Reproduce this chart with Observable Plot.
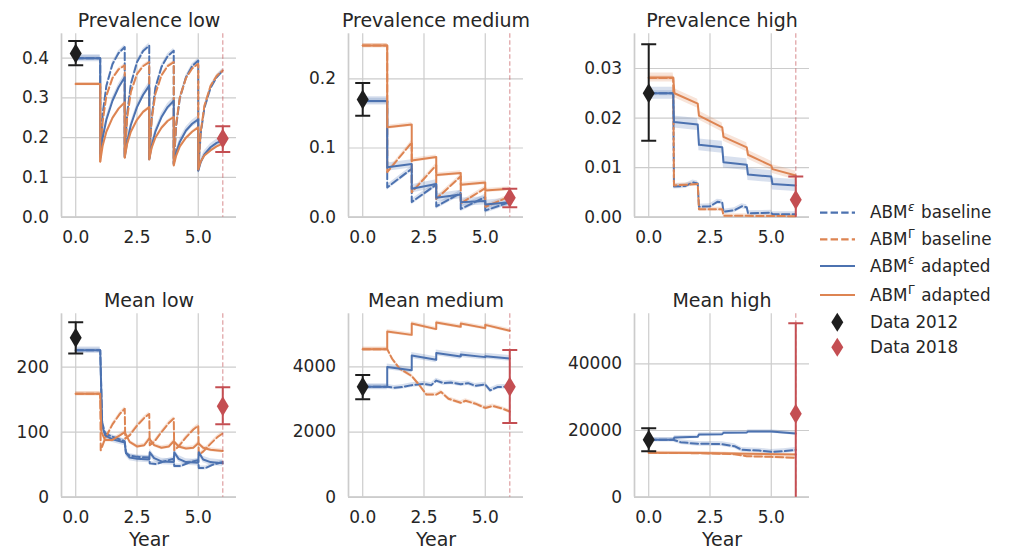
<!DOCTYPE html>
<html>
<head>
<meta charset="utf-8">
<script src="https://cdn.jsdelivr.net/npm/d3@7"></script>
<script src="https://cdn.jsdelivr.net/npm/@observablehq/plot@0.6"></script>
<style>
  body { margin: 0; background: #ffffff; }
  #root { position: relative; width: 1011px; height: 550px; overflow: hidden; font-family: "DejaVu Sans", sans-serif; color: #262626; background: #fff; }
  .panel { position: absolute; }
  .panel svg { overflow: visible; }
  .legend text, .legend tspan { font-family: "DejaVu Sans", sans-serif; }
</style>
</head>
<body>
<div id="root"></div>
<script>
// ---------------- DATA ----------------
const panelTitles = ["Prevalence low", "Prevalence medium", "Prevalence high", "Mean low", "Mean medium", "Mean high"];
const xTicks = [0, 2.5, 5];
const yTicksPLow = [0, 0.1, 0.2, 0.3, 0.4];
const yTicksPMed = [0, 0.1, 0.2];
const yTicksPHigh = [0, 0.01, 0.02, 0.03];
const yTicksMLow = [0, 100, 200];
const yTicksMMed = [0, 2000, 4000];
const yTicksMHigh = [0, 20000, 40000];
const yMaxes = [0.4614, 0.265, 0.0370, 282, 5630, 55000];

const legendLabels = ["ABM", "ABM", "ABM", "ABM", "Data 2012", "Data 2018"];
const legendSups = ["ε", "Γ", "ε", "Γ", "", ""];
const legendSuffix = ["baseline", "baseline", "adapted", "adapted", "", ""];

// Prevalence low  [year, value]
const pLowEpsBase = [[0,0.40],[1,0.40],[1,0.152],[1.1,0.26],[1.25,0.33],[1.5,0.385],[1.75,0.413],[2,0.428],
  [2,0.15],[2.1,0.26],[2.25,0.335],[2.5,0.39],[2.75,0.418],[3,0.432],
  [3,0.145],[3.1,0.25],[3.25,0.325],[3.5,0.378],[3.75,0.405],[4,0.419],
  [4,0.133],[4.1,0.23],[4.25,0.30],[4.5,0.352],[4.75,0.38],[5,0.394],
  [5,0.117],[5.1,0.21],[5.25,0.275],[5.5,0.325],[5.75,0.352],[6,0.369]];
const pLowGamBase = [[0,0.335],[1,0.335],[1,0.14],[1.1,0.24],[1.25,0.305],[1.5,0.35],[1.75,0.372],[2,0.382],
  [2,0.15],[2.1,0.25],[2.25,0.315],[2.5,0.36],[2.75,0.38],[3,0.39],
  [3,0.145],[3.1,0.245],[3.25,0.31],[3.5,0.357],[3.75,0.38],[4,0.39],
  [4,0.133],[4.1,0.235],[4.25,0.302],[4.5,0.35],[4.75,0.374],[5,0.386],
  [5,0.12],[5.1,0.215],[5.25,0.28],[5.5,0.33],[5.75,0.355],[6,0.369]];
const pLowEpsAd = [[0,0.40],[1,0.40],[1,0.16],[1.1,0.20],[1.25,0.245],[1.5,0.293],[1.75,0.327],[2,0.352],
  [2,0.152],[2.1,0.19],[2.25,0.232],[2.5,0.277],[2.75,0.308],[3,0.331],
  [3,0.147],[3.1,0.18],[3.25,0.215],[3.5,0.252],[3.75,0.277],[4,0.293],
  [4,0.135],[4.1,0.163],[4.25,0.19],[4.5,0.218],[4.75,0.235],[5,0.246],
  [5,0.117],[5.1,0.138],[5.25,0.158],[5.5,0.176],[5.75,0.187],[6,0.193]];
const pLowGamAd = [[0,0.335],[1,0.335],[1,0.14],[1.1,0.18],[1.25,0.215],[1.5,0.25],[1.75,0.273],[2,0.289],
  [2,0.15],[2.1,0.185],[2.25,0.215],[2.5,0.245],[2.75,0.265],[3,0.277],
  [3,0.145],[3.1,0.175],[3.25,0.20],[3.5,0.225],[3.75,0.242],[4,0.252],
  [4,0.13],[4.1,0.155],[4.25,0.178],[4.5,0.20],[4.75,0.215],[5,0.226],
  [5,0.12],[5.1,0.14],[5.25,0.155],[5.5,0.168],[5.75,0.178],[6,0.185]];
const ciPLow = [0.006, 0.004, 0.009, 0.003];

// Prevalence medium
const pMedEpsBase = [[0,0.168],[1,0.168],[1,0.043],[2,0.070],[2,0.022],[3,0.047],[3,0.0155],[4,0.035],[4,0.012],[5,0.029],[5,0.0097],[6,0.0217]];
const pMedGamBase = [[0,0.248],[1,0.248],[1,0.065],[2,0.108],[2,0.036],[3,0.075],[3,0.0265],[4,0.059],[4,0.020],[5,0.042],[5,0.015],[6,0.030]];
const pMedEpsAd = [[0,0.168],[1,0.168],[1,0.0723],[2,0.077],[2,0.041],[3,0.048],[3,0.028],[4,0.0328],[4,0.0217],[5,0.0235],[5,0.0184],[6,0.0217]];
const pMedGamAd = [[0,0.248],[1,0.248],[1,0.130],[2,0.134],[2,0.082],[3,0.087],[3,0.061],[4,0.064],[4,0.047],[5,0.050],[5,0.0386],[6,0.041]];
const ciPMed = [0.004, 0.003, 0.006, 0.003];

// Prevalence high
const pHighEpsBase = [[0,0.025],[1,0.025],[1.03,0.0062],[1.5,0.0063],[1.8,0.0070],[2,0.0068],[2.05,0.0021],[2.5,0.0022],[2.8,0.0031],[3,0.0030],
  [3.05,0.0011],[3.5,0.0014],[3.8,0.0022],[4,0.0020],[4.05,0.0008],[5,0.0009],[5.05,0.0006],[6,0.0006]];
const pHighGamBase = [[0,0.0281],[1,0.0281],[1.03,0.0064],[2,0.0067],[2.05,0.0016],[3,0.0016],[3.05,0.0003],[6,0.0002]];
const pHighEpsAd = [[0,0.025],[1,0.025],[1.03,0.0192],[2,0.0187],[2.05,0.0146],[3,0.0141],[3.05,0.0111],[4,0.0106],[4.05,0.0086],[5,0.0082],[5.05,0.0067],[6,0.0064]];
const pHighGamAd = [[0,0.0282],[1,0.0282],[1.05,0.0250],[2,0.0229],[2.05,0.0205],[3,0.0181],[3.05,0.0162],[4,0.0141],[4.05,0.0126],[5,0.0104],[5.05,0.0097],[6,0.0084]];
const ciPHigh = [0.0005, 0.0004, 0.0012, 0.0009];

// Mean low
const mLowEpsBase = [[0,226],[1,226],[1.08,115],[1.2,98],[1.5,93],[2,86],[2.05,68],[2.2,64],[2.5,62],[3,61],
  [3.02,52],[3.3,51],[3.6,55],[4,59],[4.02,48],[4.3,48],[4.6,53],[5,57],[5.02,45],[5.3,45],[5.6,50],[6,54]];
const mLowGamBase = [[0,159],[1,159],[1.02,72],[1.2,90],[1.5,112],[1.8,128],[2,136],[2.02,90],[2.2,95],[2.5,110],[2.8,122],[3,128],
  [3.02,80],[3.2,85],[3.5,100],[3.8,114],[4,121],[4.02,72],[4.2,78],[4.5,92],[4.8,104],[5,110],
  [5.02,65],[5.2,70],[5.5,82],[5.8,93],[6,98]];
const mLowEpsAd = [[0,226],[1,226],[1.08,110],[1.2,95],[1.5,89],[2,84],[2.05,68],[2.2,61],[2.5,59],[3,58],
  [3.02,69],[3.2,60],[3.5,55],[4,54],[4.02,69],[4.2,59],[4.5,54],[5,53],[5.02,69],[5.2,58],[5.5,54],[6,52]];
const mLowGamAd = [[0,159],[1,159],[1.05,100],[1.2,88],[1.5,88],[1.8,95],[2,100],[2.2,85],[2.5,78],[2.8,80],[3,90],
  [3.2,80],[3.5,76],[3.8,78],[4,86],[4.2,78],[4.5,75],[4.8,76],[5,83],[5.2,76],[5.5,73],[6,71]];
const ciMLow = [3, 3, 5, 3];

// Mean medium
const mMedEpsBase = [[0,3390],[1,3390],[1.3,3360],[1.6,3380],[2,3440],[2.5,3480],[2.8,3440],[3,3580],[3.3,3500],[3.6,3520],
  [4,3470],[4.3,3500],[4.6,3420],[5,3460],[5.2,3280],[5.5,3380],[6,3400]];
const mMedGamBase = [[0,4545],[1,4545],[1.2,4250],[1.5,3950],[2,3720],[2.3,3450],[2.6,3150],[3,3150],[3.2,3230],[3.5,3020],
  [4,2900],[4.2,2960],[4.6,2870],[5,2740],[5.3,2800],[5.7,2720],[6,2630]];
const mMedEpsAd = [[0,3390],[1,3390],[1,4000],[2,3900],[2,4350],[3,4220],[3,4430],[4,4320],[4,4380],[5,4300],[5,4330],[6,4260]];
const mMedGamAd = [[0,4545],[1,4545],[1,5085],[2,4983],[2,5330],[3,5160],[3,5360],[4,5230],[4,5330],[5,5190],[5,5290],[6,5110]];
const ciMMed = [70, 60, 90, 60];

// Mean high
const mHighEpsBase = [[0,17220],[1,17220],[1.3,16500],[2,16000],[2.5,16000],[3,15900],[3.5,15300],[3.8,14200],[4.5,14000],[5,13600],[5.5,13800],[6,14200]];
const mHighGamBase = [[0,13300],[2,13200],[3.5,12900],[4,12300],[5,12100],[6,11800]];
const mHighEpsAd = [[0,17220],[1,17220],[1.05,17900],[2,18100],[2.05,18800],[3,18900],[3.05,19300],[4,19400],[4.05,19700],[5,19700],[6,19100]];
const mHighGamAd = [[0,13300],[2,13250],[4,13050],[6,12800]];
const ciMHigh = [700, 500, 500, 300];

// Observed data (2012 at year 0, 2018 at year 6)
const dataYears = [0, 6];
const data2012Value = [0.412, 0.170, 0.0250, 245, 3390, 17220];
const data2012Low   = [0.382, 0.1465, 0.0154, 221, 3010, 13800];
const data2012High  = [0.443, 0.194, 0.0349, 269, 3750, 20700];
const data2018Value = [0.198, 0.028, 0.0035, 140, 3390, 25000];
const data2018Low   = [0.164, 0.0145, -0.0015, 112, 2280, -3000];
const data2018High  = [0.229, 0.041, 0.0082, 169, 4515, 52200];

// ---------------- STYLE / LAYOUT ----------------
const BLUE = "#4C72B0", ORANGE = "#DD8452", RED = "#C44E52", BLACK = "#1e1e1e", GRID = "#cccccc", TEXT = "#262626";
const seriesColor = [BLUE, ORANGE, BLUE, ORANGE];
const seriesDash = ["7.4,3.2", "7.4,3.2", null, null];
const X_DOMAIN = [-0.58, 6.56];
const colLeft = [61, 347.7, 634.3];
const rowTop = [33.3, 313.3];
const FW = 175, FH = 183.4;

const panels = [
  {ticks: yTicksPLow, fmt: d3.format(".1f"), series: [pLowEpsBase, pLowGamBase, pLowEpsAd, pLowGamAd], ci: ciPLow},
  {ticks: yTicksPMed, fmt: d3.format(".1f"), series: [pMedEpsBase, pMedGamBase, pMedEpsAd, pMedGamAd], ci: ciPMed},
  {ticks: yTicksPHigh, fmt: d3.format(".2f"), series: [pHighEpsBase, pHighGamBase, pHighEpsAd, pHighGamAd], ci: ciPHigh},
  {ticks: yTicksMLow, fmt: d => String(d), series: [mLowEpsBase, mLowGamBase, mLowEpsAd, mLowGamAd], ci: ciMLow},
  {ticks: yTicksMMed, fmt: d => String(d), series: [mMedEpsBase, mMedGamBase, mMedEpsAd, mMedGamAd], ci: ciMMed},
  {ticks: yTicksMHigh, fmt: d => String(d), series: [mHighEpsBase, mHighGamBase, mHighEpsAd, mHighGamAd], ci: ciMHigh}
];

const thinDiamond = {draw(ctx) { const w = 6, h = 10; ctx.moveTo(0, -h); ctx.lineTo(w, 0); ctx.lineTo(0, h); ctx.lineTo(-w, 0); ctx.closePath(); }};
const capSymbol = {draw(ctx) { ctx.moveTo(-7.5, 0); ctx.lineTo(7.5, 0); }};

const root = document.getElementById("root");

panels.forEach((p, i) => {
  const col = i % 3, row = Math.floor(i / 3);
  const mL = 75, mR = 15, mT = 33.3, mB = row ? 55 : 40;
  const marks = [];
  marks.push(Plot.ruleY(p.ticks, {stroke: GRID, strokeWidth: 1.2}));
  marks.push(Plot.ruleX(xTicks, {stroke: GRID, strokeWidth: 1.2}));
  marks.push(Plot.ruleX([X_DOMAIN[0]], {stroke: GRID, strokeWidth: 1.7}));
  marks.push(Plot.ruleY([0], {stroke: GRID, strokeWidth: 1.7}));
  marks.push(Plot.axisX({ticks: xTicks, tickSize: 0, tickPadding: 13.5, tickFormat: d3.format(".1f"), label: null}));
  marks.push(Plot.axisY({ticks: p.ticks, tickSize: 0, tickPadding: 12.5, tickFormat: p.fmt, label: null}));
  p.series.forEach((s, k) => {
    const c = p.ci[k];
    marks.push(Plot.areaY(s, {x: d => d[0], y1: d => d[1] - c, y2: d => d[1] + c, fill: seriesColor[k], fillOpacity: 0.22, clip: true}));
  });
  p.series.forEach((s, k) => {
    const opts = {x: d => d[0], y: d => d[1], stroke: seriesColor[k], strokeWidth: 2};
    if (seriesDash[k]) opts.strokeDasharray = seriesDash[k];
    marks.push(Plot.line(s, opts));
  });
  marks.push(Plot.ruleX([6], {stroke: RED, strokeOpacity: 0.5, strokeWidth: 1.3, strokeDasharray: "4.5,2.5"}));
  const obs = [
    {t: dataYears[0], v: data2012Value[i], lo: data2012Low[i], hi: data2012High[i], c: BLACK},
    {t: dataYears[1], v: data2018Value[i], lo: data2018Low[i], hi: data2018High[i], c: RED}
  ];
  obs.forEach(o => {
    marks.push(Plot.ruleX([o], {x: "t", y1: "lo", y2: "hi", stroke: o.c, strokeWidth: 2, clip: true}));
    marks.push(Plot.dot([{t: o.t, y: o.lo}, {t: o.t, y: o.hi}], {x: "t", y: "y", symbol: capSymbol, stroke: o.c, strokeWidth: 2, fill: "none", clip: true}));
    marks.push(Plot.dot([o], {x: "t", y: "v", symbol: thinDiamond, fill: o.c, stroke: "none"}));
  });
  marks.push(Plot.text([panelTitles[i]], {text: d => d, frameAnchor: "top", lineAnchor: "bottom", dy: -6.6, fontSize: 19, fill: TEXT}));
  if (row === 1) marks.push(Plot.text(["Year"], {text: d => d, frameAnchor: "bottom", lineAnchor: "top", dy: 35.5, fontSize: 19, fill: TEXT}));

  const svg = Plot.plot({
    width: mL + FW + mR,
    height: mT + FH + mB,
    marginLeft: mL, marginRight: mR, marginTop: mT, marginBottom: mB,
    style: {fontFamily: "DejaVu Sans, sans-serif", fontSize: "17px", color: TEXT, background: "transparent", overflow: "visible"},
    x: {domain: X_DOMAIN},
    y: {domain: [0, yMaxes[i]]},
    marks
  });
  const div = document.createElement("div");
  div.className = "panel";
  div.style.left = (colLeft[col] - mL) + "px";
  div.style.top = (rowTop[row] - mT) + "px";
  div.appendChild(svg);
  root.appendChild(div);
});

// ---------------- LEGEND ----------------
const legendSampleY = [212.7, 239.3, 266, 295, 322.3, 347.3];
const legendBaseY = [218.3, 245, 271.7, 301, 327.7, 352.7];
const legendColor = [BLUE, ORANGE, BLUE, ORANGE, BLACK, RED];
const ox = 810, oy = 190;
const NS = "http://www.w3.org/2000/svg";
const lsvg = document.createElementNS(NS, "svg");
lsvg.setAttribute("class", "legend");
lsvg.setAttribute("width", 201);
lsvg.setAttribute("height", 180);
lsvg.style.cssText = `position:absolute;left:${ox}px;top:${oy}px;overflow:visible`;
function el(name, attrs, text) {
  const e = document.createElementNS(NS, name);
  for (const k in attrs) e.setAttribute(k, attrs[k]);
  if (text != null) e.textContent = text;
  return e;
}
legendLabels.forEach((lab, k) => {
  const sy = legendSampleY[k] - oy, by = legendBaseY[k] - oy;
  if (k < 4) {
    const a = {x1: 10, x2: 45, y1: sy, y2: sy, stroke: legendColor[k], "stroke-width": 2.2};
    if (seriesDash[k]) a["stroke-dasharray"] = seriesDash[k];
    lsvg.appendChild(el("line", a));
  } else {
    lsvg.appendChild(el("path", {transform: `translate(27.3,${sy})`, d: "M0,-9.5L6,0L0,9.5L-6,0Z", fill: legendColor[k]}));
  }
  const t = el("text", {x: 60, y: by, fill: TEXT, "font-size": 16.8});
  t.appendChild(el("tspan", {"font-size": 16.8}, lab));
  if (legendSups[k]) {
    const sup = {"font-size": 12, dy: -7.5, dx: 0.5};
    if (legendSups[k] === "ε") sup["font-style"] = "italic";
    t.appendChild(el("tspan", sup, legendSups[k]));
    t.appendChild(el("tspan", {"font-size": 16.8, dy: 7.5, dx: 6.5}, legendSuffix[k]));
  }
  lsvg.appendChild(t);
});
root.appendChild(lsvg);
</script>
</body>
</html>
